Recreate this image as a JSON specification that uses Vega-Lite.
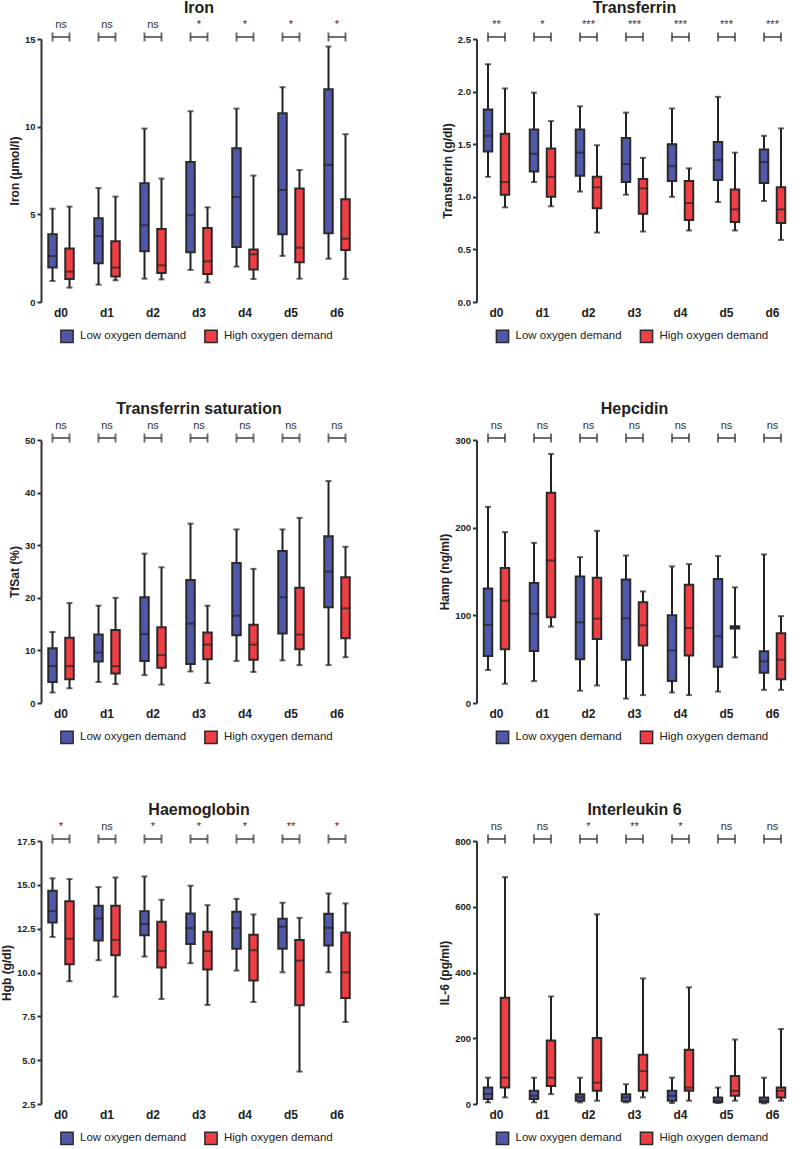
{
"$schema":"https://vega.github.io/schema/vega-lite/v6.json",
"padding":{"left":0,"top":0,"right":0,"bottom":0},
"autosize":{"type":"pad"},
"columns":2,
"bounds":"flush",
"spacing":{"row":138,"column":113.5},
"resolve":{"scale":{"color":"independent"},"legend":{"color":"independent"}},
"config":{
 "view":{"stroke":null},
 "font":"Liberation Sans",
 "axisY":{"domainColor":"#333","domainWidth":2,"tickColor":"#333","tickWidth":2,"tickSize":4,"labelFontSize":9.5,"labelFontWeight":"bold","labelColor":"#222","labelPadding":2,"titleFontSize":12,"titleFontWeight":"bold","titleColor":"#222","titlePadding":3,"grid":false,"offset":-3},
 "axisX":{"domain":false,"ticks":false,"labelFontSize":12,"labelFontWeight":"bold","labelColor":"#222","labelPadding":5,"labelAngle":0,"grid":false,"title":null},
 "title":{"fontSize":16,"fontWeight":"bold","color":"#222","offset":3},
 "legend":{"symbolType":"square","symbolSize":150,"symbolStrokeColor":"#2b2b2b","symbolStrokeWidth":1.5,"labelFontSize":11.5,"labelColor":"#222","labelOffset":6,"columnPadding":14}
},
"datasets":{
"iron":[
{"day":"d0","group":"Low oxygen demand","min":1.2,"q1":1.97,"med":2.62,"q3":3.87,"max":5.32},
{"day":"d0","group":"High oxygen demand","min":0.82,"q1":1.31,"med":1.73,"q3":3.05,"max":5.44},
{"day":"d1","group":"Low oxygen demand","min":0.99,"q1":2.21,"med":3.75,"q3":4.77,"max":6.5},
{"day":"d1","group":"High oxygen demand","min":1.24,"q1":1.45,"med":1.96,"q3":3.46,"max":6.01},
{"day":"d2","group":"Low oxygen demand","min":1.33,"q1":2.89,"med":4.38,"q3":6.77,"max":9.89},
{"day":"d2","group":"High oxygen demand","min":1.29,"q1":1.66,"med":2.09,"q3":4.17,"max":7.04},
{"day":"d3","group":"Low oxygen demand","min":1.83,"q1":2.84,"med":4.95,"q3":7.99,"max":10.88},
{"day":"d3","group":"High oxygen demand","min":1.12,"q1":1.6,"med":2.32,"q3":4.22,"max":5.4},
{"day":"d4","group":"Low oxygen demand","min":2.02,"q1":3.14,"med":5.99,"q3":8.77,"max":11.03},
{"day":"d4","group":"High oxygen demand","min":1.31,"q1":1.85,"med":2.72,"q3":2.99,"max":7.21},
{"day":"d5","group":"Low oxygen demand","min":2.63,"q1":3.86,"med":6.39,"q3":10.76,"max":12.25},
{"day":"d5","group":"High oxygen demand","min":1.33,"q1":2.26,"med":3.1,"q3":6.47,"max":7.53},
{"day":"d6","group":"Low oxygen demand","min":2.47,"q1":3.92,"med":7.82,"q3":12.13,"max":14.57},
{"day":"d6","group":"High oxygen demand","min":1.31,"q1":2.97,"med":3.61,"q3":5.86,"max":9.57}],
"iron_sig":[{"day":"d0","sig":"ns"},{"day":"d1","sig":"ns"},{"day":"d2","sig":"ns"},{"day":"d3","sig":"*"},{"day":"d4","sig":"*"},{"day":"d5","sig":"*"},{"day":"d6","sig":"*"}],
"tf":[
{"day":"d0","group":"Low oxygen demand","min":1.19,"q1":1.43,"med":1.58,"q3":1.83,"max":2.26},
{"day":"d0","group":"High oxygen demand","min":0.9,"q1":1.02,"med":1.14,"q3":1.6,"max":2.03},
{"day":"d1","group":"Low oxygen demand","min":1.14,"q1":1.24,"med":1.41,"q3":1.64,"max":1.99},
{"day":"d1","group":"High oxygen demand","min":0.91,"q1":1.0,"med":1.19,"q3":1.46,"max":1.72},
{"day":"d2","group":"Low oxygen demand","min":1.05,"q1":1.2,"med":1.42,"q3":1.64,"max":1.86},
{"day":"d2","group":"High oxygen demand","min":0.66,"q1":0.89,"med":1.09,"q3":1.19,"max":1.49},
{"day":"d3","group":"Low oxygen demand","min":1.02,"q1":1.14,"med":1.31,"q3":1.56,"max":1.8},
{"day":"d3","group":"High oxygen demand","min":0.67,"q1":0.84,"med":1.08,"q3":1.17,"max":1.37},
{"day":"d4","group":"Low oxygen demand","min":1.0,"q1":1.15,"med":1.29,"q3":1.5,"max":1.84},
{"day":"d4","group":"High oxygen demand","min":0.68,"q1":0.78,"med":0.94,"q3":1.15,"max":1.27},
{"day":"d5","group":"Low oxygen demand","min":0.95,"q1":1.16,"med":1.35,"q3":1.52,"max":1.95},
{"day":"d5","group":"High oxygen demand","min":0.68,"q1":0.76,"med":0.88,"q3":1.07,"max":1.42},
{"day":"d6","group":"Low oxygen demand","min":0.96,"q1":1.13,"med":1.33,"q3":1.45,"max":1.58},
{"day":"d6","group":"High oxygen demand","min":0.59,"q1":0.75,"med":0.88,"q3":1.09,"max":1.65}],
"tf_sig":[{"day":"d0","sig":"**"},{"day":"d1","sig":"*"},{"day":"d2","sig":"***"},{"day":"d3","sig":"***"},{"day":"d4","sig":"***"},{"day":"d5","sig":"***"},{"day":"d6","sig":"***"}],
"tsat":[
{"day":"d0","group":"Low oxygen demand","min":2.0,"q1":4.0,"med":7.0,"q3":10.4,"max":13.5},
{"day":"d0","group":"High oxygen demand","min":2.8,"q1":4.5,"med":7.0,"q3":12.4,"max":19.0},
{"day":"d1","group":"Low oxygen demand","min":4.0,"q1":7.9,"med":9.6,"q3":13.0,"max":18.5},
{"day":"d1","group":"High oxygen demand","min":3.6,"q1":5.6,"med":7.0,"q3":13.9,"max":20.0},
{"day":"d2","group":"Low oxygen demand","min":5.3,"q1":8.0,"med":13.1,"q3":20.1,"max":28.4},
{"day":"d2","group":"High oxygen demand","min":3.5,"q1":6.7,"med":9.1,"q3":14.4,"max":25.8},
{"day":"d3","group":"Low oxygen demand","min":6.0,"q1":7.4,"med":15.1,"q3":23.4,"max":34.1},
{"day":"d3","group":"High oxygen demand","min":3.8,"q1":8.3,"med":11.1,"q3":13.4,"max":18.5},
{"day":"d4","group":"Low oxygen demand","min":8.0,"q1":12.9,"med":16.6,"q3":26.6,"max":33.0},
{"day":"d4","group":"High oxygen demand","min":5.9,"q1":8.2,"med":11.1,"q3":14.9,"max":25.5},
{"day":"d5","group":"Low oxygen demand","min":8.1,"q1":13.2,"med":20.1,"q3":28.9,"max":33.0},
{"day":"d5","group":"High oxygen demand","min":7.2,"q1":10.2,"med":13.0,"q3":21.9,"max":35.2},
{"day":"d6","group":"Low oxygen demand","min":7.2,"q1":18.2,"med":25.0,"q3":31.7,"max":42.2},
{"day":"d6","group":"High oxygen demand","min":8.7,"q1":12.3,"med":18.0,"q3":23.9,"max":29.7}],
"tsat_sig":[{"day":"d0","sig":"ns"},{"day":"d1","sig":"ns"},{"day":"d2","sig":"ns"},{"day":"d3","sig":"ns"},{"day":"d4","sig":"ns"},{"day":"d5","sig":"ns"},{"day":"d6","sig":"ns"}],
"hamp":[
{"day":"d0","group":"Low oxygen demand","min":37.6,"q1":53.5,"med":89.0,"q3":130.7,"max":223.7},
{"day":"d0","group":"High oxygen demand","min":22,"q1":61.2,"med":116.7,"q3":153.9,"max":194.9},
{"day":"d1","group":"Low oxygen demand","min":25,"q1":59.2,"med":101.9,"q3":136.8,"max":182.7},
{"day":"d1","group":"High oxygen demand","min":87.1,"q1":97.7,"med":162.6,"q3":239.7,"max":284.1},
{"day":"d2","group":"Low oxygen demand","min":14,"q1":49.8,"med":92.0,"q3":144.4,"max":166.4},
{"day":"d2","group":"High oxygen demand","min":20,"q1":72.9,"med":96.2,"q3":142.9,"max":196.4},
{"day":"d3","group":"Low oxygen demand","min":5,"q1":49.4,"med":96.6,"q3":141.0,"max":168.3},
{"day":"d3","group":"High oxygen demand","min":9,"q1":65.7,"med":88.6,"q3":114.8,"max":127.3},
{"day":"d4","group":"Low oxygen demand","min":12,"q1":25,"med":60.0,"q3":100.0,"max":155.8},
{"day":"d4","group":"High oxygen demand","min":9,"q1":54.3,"med":85.4,"q3":134.9,"max":158.4},
{"day":"d5","group":"Low oxygen demand","min":13,"q1":41.4,"med":76.0,"q3":141.4,"max":167.6},
{"day":"d5","group":"High oxygen demand","min":52.0,"q1":85.0,"med":86.3,"q3":87.5,"max":131.9},
{"day":"d6","group":"Low oxygen demand","min":15,"q1":34.6,"med":47.5,"q3":58.9,"max":169.5},
{"day":"d6","group":"High oxygen demand","min":15,"q1":27,"med":49.4,"q3":79.7,"max":99.1}],
"hamp_sig":[{"day":"d0","sig":"ns"},{"day":"d1","sig":"ns"},{"day":"d2","sig":"ns"},{"day":"d3","sig":"ns"},{"day":"d4","sig":"ns"},{"day":"d5","sig":"ns"},{"day":"d6","sig":"ns"}],
"hgb":[
{"day":"d0","group":"Low oxygen demand","min":12.03,"q1":12.85,"med":13.5,"q3":14.66,"max":15.37},
{"day":"d0","group":"High oxygen demand","min":9.5,"q1":10.47,"med":11.92,"q3":14.07,"max":15.33},
{"day":"d1","group":"Low oxygen demand","min":10.7,"q1":11.82,"med":13.08,"q3":13.8,"max":14.87},
{"day":"d1","group":"High oxygen demand","min":8.62,"q1":10.99,"med":11.86,"q3":13.8,"max":15.42},
{"day":"d2","group":"Low oxygen demand","min":10.91,"q1":12.13,"med":12.76,"q3":13.5,"max":15.48},
{"day":"d2","group":"High oxygen demand","min":8.49,"q1":10.28,"med":11.23,"q3":12.89,"max":14.15},
{"day":"d3","group":"Low oxygen demand","min":10.53,"q1":11.63,"med":12.53,"q3":13.37,"max":14.95},
{"day":"d3","group":"High oxygen demand","min":8.15,"q1":10.17,"med":11.23,"q3":12.32,"max":13.84},
{"day":"d4","group":"Low oxygen demand","min":10.11,"q1":11.35,"med":12.53,"q3":13.46,"max":14.2},
{"day":"d4","group":"High oxygen demand","min":8.32,"q1":9.54,"med":11.27,"q3":12.15,"max":13.31},
{"day":"d5","group":"Low oxygen demand","min":10.01,"q1":11.35,"med":12.62,"q3":13.06,"max":13.98},
{"day":"d5","group":"High oxygen demand","min":4.35,"q1":8.13,"med":10.68,"q3":11.86,"max":13.12},
{"day":"d6","group":"Low oxygen demand","min":10.01,"q1":11.54,"med":12.55,"q3":13.35,"max":14.51},
{"day":"d6","group":"High oxygen demand","min":7.18,"q1":8.55,"med":10.01,"q3":12.28,"max":13.94}],
"hgb_sig":[{"day":"d0","sig":"*"},{"day":"d1","sig":"ns"},{"day":"d2","sig":"*"},{"day":"d3","sig":"*"},{"day":"d4","sig":"*"},{"day":"d5","sig":"**"},{"day":"d6","sig":"*"}],
"il6":[
{"day":"d0","group":"Low oxygen demand","min":5,"q1":15,"med":30,"q3":50,"max":80},
{"day":"d0","group":"High oxygen demand","min":20,"q1":50,"med":80,"q3":323,"max":690},
{"day":"d1","group":"Low oxygen demand","min":5,"q1":15,"med":25,"q3":40,"max":80},
{"day":"d1","group":"High oxygen demand","min":30,"q1":55,"med":80,"q3":193,"max":327},
{"day":"d2","group":"Low oxygen demand","min":5,"q1":10,"med":20,"q3":30,"max":80},
{"day":"d2","group":"High oxygen demand","min":10,"q1":40,"med":65,"q3":201,"max":577},
{"day":"d3","group":"Low oxygen demand","min":5,"q1":8,"med":20,"q3":30,"max":60},
{"day":"d3","group":"High oxygen demand","min":20,"q1":40,"med":100,"q3":150,"max":382},
{"day":"d4","group":"Low oxygen demand","min":3,"q1":10,"med":25,"q3":40,"max":80},
{"day":"d4","group":"High oxygen demand","min":10,"q1":40,"med":50,"q3":165,"max":355},
{"day":"d5","group":"Low oxygen demand","min":3,"q1":5,"med":10,"q3":20,"max":50},
{"day":"d5","group":"High oxygen demand","min":10,"q1":25,"med":40,"q3":85,"max":196},
{"day":"d6","group":"Low oxygen demand","min":2,"q1":5,"med":10,"q3":20,"max":80},
{"day":"d6","group":"High oxygen demand","min":10,"q1":20,"med":40,"q3":50,"max":228}],
"il6_sig":[{"day":"d0","sig":"ns"},{"day":"d1","sig":"ns"},{"day":"d2","sig":"*"},{"day":"d3","sig":"**"},{"day":"d4","sig":"*"},{"day":"d5","sig":"ns"},{"day":"d6","sig":"ns"}]
},
"concat":[
{"title":"Iron","width":322,"height":263,"data":{"name":"iron"},
 "encoding":{"x":{"field":"day","type":"nominal","title":null,"scale":{"paddingInner":0,"paddingOuter":0}}},
 "layer":[
 {"mark":{"type":"rule","color":"#222","strokeWidth":2},"encoding":{"xOffset":{"field":"group","type":"nominal","scale":{"domain":["Low oxygen demand","High oxygen demand"],"paddingInner":0,"paddingOuter":0.353}},"y":{"field":"min","type":"quantitative","title":"Iron (µmol/l)","scale":{"domain":[0,15],"nice":false},"axis":{"values":[0,5,10,15]}},"y2":{"field":"max"}}},
 {"mark":{"type":"tick","color":"#222","thickness":2,"size":6,"orient":"horizontal"},"encoding":{"xOffset":{"field":"group","type":"nominal"},"y":{"field":"min","type":"quantitative","title":"Iron (µmol/l)"}}},
 {"mark":{"type":"tick","color":"#222","thickness":2,"size":6,"orient":"horizontal"},"encoding":{"xOffset":{"field":"group","type":"nominal"},"y":{"field":"max","type":"quantitative","title":"Iron (µmol/l)"}}},
 {"mark":{"type":"bar","width":8.5,"stroke":"#2b2b2b","strokeWidth":2},"encoding":{"xOffset":{"field":"group","type":"nominal"},"y":{"field":"q1","type":"quantitative","title":"Iron (µmol/l)"},"y2":{"field":"q3"},"color":{"field":"group","type":"nominal","scale":{"domain":["Low oxygen demand","High oxygen demand"],"range":["#5058a9","#ef3e44"]},"legend":{"orient":"none","legendX":22,"legendY":290,"direction":"horizontal","title":null}}}},
 {"mark":{"type":"tick","color":"#222","thickness":2,"size":9,"orient":"horizontal"},"encoding":{"xOffset":{"field":"group","type":"nominal"},"y":{"field":"med","type":"quantitative","title":"Iron (µmol/l)"}}},
 {"mark":{"type":"tick","color":"#333","thickness":2,"size":9,"orient":"vertical","yOffset":-2},"encoding":{"xOffset":{"field":"group","type":"nominal"},"y":{"datum":15,"type":"quantitative","title":"Iron (µmol/l)"}}},
 {"data":{"name":"iron_sig"},"mark":{"type":"tick","color":"#333","thickness":2,"size":17,"orient":"horizontal","yOffset":-2},"encoding":{"y":{"datum":15,"type":"quantitative","title":"Iron (µmol/l)"}}},
 {"data":{"name":"iron_sig"},"mark":{"type":"text","fontSize":11,"color":"#333","baseline":"middle","dy":-14},"encoding":{"y":{"datum":15,"type":"quantitative","title":"Iron (µmol/l)"},"text":{"field":"sig"}}}
 ]},
{"title":"Transferrin","width":322,"height":263,"data":{"name":"tf"},
 "encoding":{"x":{"field":"day","type":"nominal","title":null,"scale":{"paddingInner":0,"paddingOuter":0}}},
 "layer":[
 {"mark":{"type":"rule","color":"#222","strokeWidth":2},"encoding":{"xOffset":{"field":"group","type":"nominal","scale":{"domain":["Low oxygen demand","High oxygen demand"],"paddingInner":0,"paddingOuter":0.353}},"y":{"field":"min","type":"quantitative","title":"Transferrin (g/dl)","scale":{"domain":[0,2.5],"nice":false},"axis":{"values":[0,0.5,1,1.5,2,2.5],"format":".1f"}},"y2":{"field":"max"}}},
 {"mark":{"type":"tick","color":"#222","thickness":2,"size":6,"orient":"horizontal"},"encoding":{"xOffset":{"field":"group","type":"nominal"},"y":{"field":"min","type":"quantitative","title":"Transferrin (g/dl)"}}},
 {"mark":{"type":"tick","color":"#222","thickness":2,"size":6,"orient":"horizontal"},"encoding":{"xOffset":{"field":"group","type":"nominal"},"y":{"field":"max","type":"quantitative","title":"Transferrin (g/dl)"}}},
 {"mark":{"type":"bar","width":8.5,"stroke":"#2b2b2b","strokeWidth":2},"encoding":{"xOffset":{"field":"group","type":"nominal"},"y":{"field":"q1","type":"quantitative","title":"Transferrin (g/dl)"},"y2":{"field":"q3"},"color":{"field":"group","type":"nominal","scale":{"domain":["Low oxygen demand","High oxygen demand"],"range":["#5058a9","#ef3e44"]},"legend":{"orient":"none","legendX":22,"legendY":290,"direction":"horizontal","title":null}}}},
 {"mark":{"type":"tick","color":"#222","thickness":2,"size":9,"orient":"horizontal"},"encoding":{"xOffset":{"field":"group","type":"nominal"},"y":{"field":"med","type":"quantitative","title":"Transferrin (g/dl)"}}},
 {"mark":{"type":"tick","color":"#333","thickness":2,"size":9,"orient":"vertical","yOffset":-2},"encoding":{"xOffset":{"field":"group","type":"nominal"},"y":{"datum":2.5,"type":"quantitative","title":"Transferrin (g/dl)"}}},
 {"data":{"name":"tf_sig"},"mark":{"type":"tick","color":"#333","thickness":2,"size":17,"orient":"horizontal","yOffset":-2},"encoding":{"y":{"datum":2.5,"type":"quantitative","title":"Transferrin (g/dl)"}}},
 {"data":{"name":"tf_sig"},"mark":{"type":"text","fontSize":11,"color":"#333","baseline":"middle","dy":-14},"encoding":{"y":{"datum":2.5,"type":"quantitative","title":"Transferrin (g/dl)"},"text":{"field":"sig"}}}
 ]},
{"title":"Transferrin saturation","width":322,"height":263,"data":{"name":"tsat"},
 "encoding":{"x":{"field":"day","type":"nominal","title":null,"scale":{"paddingInner":0,"paddingOuter":0}}},
 "layer":[
 {"mark":{"type":"rule","color":"#222","strokeWidth":2},"encoding":{"xOffset":{"field":"group","type":"nominal","scale":{"domain":["Low oxygen demand","High oxygen demand"],"paddingInner":0,"paddingOuter":0.353}},"y":{"field":"min","type":"quantitative","title":"TfSat (%)","scale":{"domain":[0,50],"nice":false},"axis":{"values":[0,10,20,30,40,50]}},"y2":{"field":"max"}}},
 {"mark":{"type":"tick","color":"#222","thickness":2,"size":6,"orient":"horizontal"},"encoding":{"xOffset":{"field":"group","type":"nominal"},"y":{"field":"min","type":"quantitative","title":"TfSat (%)"}}},
 {"mark":{"type":"tick","color":"#222","thickness":2,"size":6,"orient":"horizontal"},"encoding":{"xOffset":{"field":"group","type":"nominal"},"y":{"field":"max","type":"quantitative","title":"TfSat (%)"}}},
 {"mark":{"type":"bar","width":8.5,"stroke":"#2b2b2b","strokeWidth":2},"encoding":{"xOffset":{"field":"group","type":"nominal"},"y":{"field":"q1","type":"quantitative","title":"TfSat (%)"},"y2":{"field":"q3"},"color":{"field":"group","type":"nominal","scale":{"domain":["Low oxygen demand","High oxygen demand"],"range":["#5058a9","#ef3e44"]},"legend":{"orient":"none","legendX":22,"legendY":290,"direction":"horizontal","title":null}}}},
 {"mark":{"type":"tick","color":"#222","thickness":2,"size":9,"orient":"horizontal"},"encoding":{"xOffset":{"field":"group","type":"nominal"},"y":{"field":"med","type":"quantitative","title":"TfSat (%)"}}},
 {"mark":{"type":"tick","color":"#333","thickness":2,"size":9,"orient":"vertical","yOffset":-2},"encoding":{"xOffset":{"field":"group","type":"nominal"},"y":{"datum":50,"type":"quantitative","title":"TfSat (%)"}}},
 {"data":{"name":"tsat_sig"},"mark":{"type":"tick","color":"#333","thickness":2,"size":17,"orient":"horizontal","yOffset":-2},"encoding":{"y":{"datum":50,"type":"quantitative","title":"TfSat (%)"}}},
 {"data":{"name":"tsat_sig"},"mark":{"type":"text","fontSize":11,"color":"#333","baseline":"middle","dy":-14},"encoding":{"y":{"datum":50,"type":"quantitative","title":"TfSat (%)"},"text":{"field":"sig"}}}
 ]},
{"title":"Hepcidin","width":322,"height":263,"data":{"name":"hamp"},
 "encoding":{"x":{"field":"day","type":"nominal","title":null,"scale":{"paddingInner":0,"paddingOuter":0}}},
 "layer":[
 {"mark":{"type":"rule","color":"#222","strokeWidth":2},"encoding":{"xOffset":{"field":"group","type":"nominal","scale":{"domain":["Low oxygen demand","High oxygen demand"],"paddingInner":0,"paddingOuter":0.353}},"y":{"field":"min","type":"quantitative","title":"Hamp (ng/ml)","scale":{"domain":[0,300],"nice":false},"axis":{"values":[0,100,200,300]}},"y2":{"field":"max"}}},
 {"mark":{"type":"tick","color":"#222","thickness":2,"size":6,"orient":"horizontal"},"encoding":{"xOffset":{"field":"group","type":"nominal"},"y":{"field":"min","type":"quantitative","title":"Hamp (ng/ml)"}}},
 {"mark":{"type":"tick","color":"#222","thickness":2,"size":6,"orient":"horizontal"},"encoding":{"xOffset":{"field":"group","type":"nominal"},"y":{"field":"max","type":"quantitative","title":"Hamp (ng/ml)"}}},
 {"mark":{"type":"bar","width":8.5,"stroke":"#2b2b2b","strokeWidth":2},"encoding":{"xOffset":{"field":"group","type":"nominal"},"y":{"field":"q1","type":"quantitative","title":"Hamp (ng/ml)"},"y2":{"field":"q3"},"color":{"field":"group","type":"nominal","scale":{"domain":["Low oxygen demand","High oxygen demand"],"range":["#5058a9","#ef3e44"]},"legend":{"orient":"none","legendX":22,"legendY":290,"direction":"horizontal","title":null}}}},
 {"mark":{"type":"tick","color":"#222","thickness":2,"size":9,"orient":"horizontal"},"encoding":{"xOffset":{"field":"group","type":"nominal"},"y":{"field":"med","type":"quantitative","title":"Hamp (ng/ml)"}}},
 {"mark":{"type":"tick","color":"#333","thickness":2,"size":9,"orient":"vertical","yOffset":-2},"encoding":{"xOffset":{"field":"group","type":"nominal"},"y":{"datum":300,"type":"quantitative","title":"Hamp (ng/ml)"}}},
 {"data":{"name":"hamp_sig"},"mark":{"type":"tick","color":"#333","thickness":2,"size":17,"orient":"horizontal","yOffset":-2},"encoding":{"y":{"datum":300,"type":"quantitative","title":"Hamp (ng/ml)"}}},
 {"data":{"name":"hamp_sig"},"mark":{"type":"text","fontSize":11,"color":"#333","baseline":"middle","dy":-14},"encoding":{"y":{"datum":300,"type":"quantitative","title":"Hamp (ng/ml)"},"text":{"field":"sig"}}}
 ]},
{"title":"Haemoglobin","width":322,"height":263,"data":{"name":"hgb"},
 "encoding":{"x":{"field":"day","type":"nominal","title":null,"scale":{"paddingInner":0,"paddingOuter":0}}},
 "layer":[
 {"mark":{"type":"rule","color":"#222","strokeWidth":2},"encoding":{"xOffset":{"field":"group","type":"nominal","scale":{"domain":["Low oxygen demand","High oxygen demand"],"paddingInner":0,"paddingOuter":0.353}},"y":{"field":"min","type":"quantitative","title":"Hgb (g/dl)","scale":{"domain":[2.5,17.5],"zero":false,"nice":false},"axis":{"values":[2.5,5,7.5,10,12.5,15,17.5],"format":".1f"}},"y2":{"field":"max"}}},
 {"mark":{"type":"tick","color":"#222","thickness":2,"size":6,"orient":"horizontal"},"encoding":{"xOffset":{"field":"group","type":"nominal"},"y":{"field":"min","type":"quantitative","title":"Hgb (g/dl)"}}},
 {"mark":{"type":"tick","color":"#222","thickness":2,"size":6,"orient":"horizontal"},"encoding":{"xOffset":{"field":"group","type":"nominal"},"y":{"field":"max","type":"quantitative","title":"Hgb (g/dl)"}}},
 {"mark":{"type":"bar","width":8.5,"stroke":"#2b2b2b","strokeWidth":2},"encoding":{"xOffset":{"field":"group","type":"nominal"},"y":{"field":"q1","type":"quantitative","title":"Hgb (g/dl)"},"y2":{"field":"q3"},"color":{"field":"group","type":"nominal","scale":{"domain":["Low oxygen demand","High oxygen demand"],"range":["#5058a9","#ef3e44"]},"legend":{"orient":"none","legendX":22,"legendY":290,"direction":"horizontal","title":null}}}},
 {"mark":{"type":"tick","color":"#222","thickness":2,"size":9,"orient":"horizontal"},"encoding":{"xOffset":{"field":"group","type":"nominal"},"y":{"field":"med","type":"quantitative","title":"Hgb (g/dl)"}}},
 {"mark":{"type":"tick","color":"#333","thickness":2,"size":9,"orient":"vertical","yOffset":-2},"encoding":{"xOffset":{"field":"group","type":"nominal"},"y":{"datum":17.5,"type":"quantitative","title":"Hgb (g/dl)"}}},
 {"data":{"name":"hgb_sig"},"mark":{"type":"tick","color":"#333","thickness":2,"size":17,"orient":"horizontal","yOffset":-2},"encoding":{"y":{"datum":17.5,"type":"quantitative","title":"Hgb (g/dl)"}}},
 {"data":{"name":"hgb_sig"},"mark":{"type":"text","fontSize":11,"color":"#333","baseline":"middle","dy":-14},"encoding":{"y":{"datum":17.5,"type":"quantitative","title":"Hgb (g/dl)"},"text":{"field":"sig"}}}
 ]},
{"title":"Interleukin 6","width":322,"height":263,"data":{"name":"il6"},
 "encoding":{"x":{"field":"day","type":"nominal","title":null,"scale":{"paddingInner":0,"paddingOuter":0}}},
 "layer":[
 {"mark":{"type":"rule","color":"#222","strokeWidth":2},"encoding":{"xOffset":{"field":"group","type":"nominal","scale":{"domain":["Low oxygen demand","High oxygen demand"],"paddingInner":0,"paddingOuter":0.353}},"y":{"field":"min","type":"quantitative","title":"IL-6 (pg/ml)","scale":{"domain":[0,800],"nice":false},"axis":{"values":[0,200,400,600,800]}},"y2":{"field":"max"}}},
 {"mark":{"type":"tick","color":"#222","thickness":2,"size":6,"orient":"horizontal"},"encoding":{"xOffset":{"field":"group","type":"nominal"},"y":{"field":"min","type":"quantitative","title":"IL-6 (pg/ml)"}}},
 {"mark":{"type":"tick","color":"#222","thickness":2,"size":6,"orient":"horizontal"},"encoding":{"xOffset":{"field":"group","type":"nominal"},"y":{"field":"max","type":"quantitative","title":"IL-6 (pg/ml)"}}},
 {"mark":{"type":"bar","width":8.5,"stroke":"#2b2b2b","strokeWidth":2},"encoding":{"xOffset":{"field":"group","type":"nominal"},"y":{"field":"q1","type":"quantitative","title":"IL-6 (pg/ml)"},"y2":{"field":"q3"},"color":{"field":"group","type":"nominal","scale":{"domain":["Low oxygen demand","High oxygen demand"],"range":["#5058a9","#ef3e44"]},"legend":{"orient":"none","legendX":22,"legendY":290,"direction":"horizontal","title":null}}}},
 {"mark":{"type":"tick","color":"#222","thickness":2,"size":9,"orient":"horizontal"},"encoding":{"xOffset":{"field":"group","type":"nominal"},"y":{"field":"med","type":"quantitative","title":"IL-6 (pg/ml)"}}},
 {"mark":{"type":"tick","color":"#333","thickness":2,"size":9,"orient":"vertical","yOffset":-2},"encoding":{"xOffset":{"field":"group","type":"nominal"},"y":{"datum":800,"type":"quantitative","title":"IL-6 (pg/ml)"}}},
 {"data":{"name":"il6_sig"},"mark":{"type":"tick","color":"#333","thickness":2,"size":17,"orient":"horizontal","yOffset":-2},"encoding":{"y":{"datum":800,"type":"quantitative","title":"IL-6 (pg/ml)"}}},
 {"data":{"name":"il6_sig"},"mark":{"type":"text","fontSize":11,"color":"#333","baseline":"middle","dy":-14},"encoding":{"y":{"datum":800,"type":"quantitative","title":"IL-6 (pg/ml)"},"text":{"field":"sig"}}}
 ]}
]
}
